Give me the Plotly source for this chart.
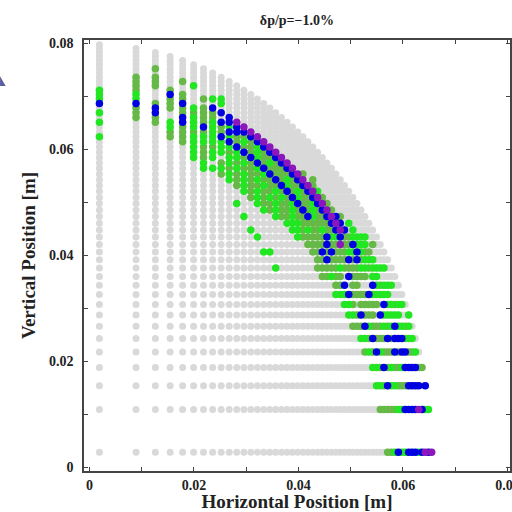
import plotly.graph_objects as go

# Grid columns (horizontal positions, m) and rows (vertical positions, m)
col_x = [0.00190, 0.00891, 0.01261, 0.01544, 0.01783, 0.01993, 0.02183, 0.02358, 0.02521, 0.02674,
         0.02819, 0.02956, 0.03088, 0.03214, 0.03335, 0.03452, 0.03565, 0.03675, 0.03782, 0.03885,
         0.03986, 0.04085, 0.04181, 0.04275, 0.04367, 0.04457, 0.04545, 0.04632, 0.04717, 0.04800,
         0.04882, 0.04963, 0.05042, 0.05120, 0.05197, 0.05273, 0.05348, 0.05422, 0.05495, 0.05567,
         0.05637, 0.05707, 0.05777, 0.05845, 0.05913, 0.05979, 0.06045, 0.06111, 0.06176, 0.06239,
         0.06303, 0.06366, 0.06428, 0.06489, 0.06550]
row_y = [0.00280, 0.01084, 0.01534, 0.01878, 0.02169, 0.02425, 0.02656, 0.02869, 0.03067, 0.03253,
         0.03429, 0.03597, 0.03757, 0.03910, 0.04058, 0.04200, 0.04338, 0.04471, 0.04601, 0.04727,
         0.04850, 0.04970, 0.05087, 0.05201, 0.05313, 0.05422, 0.05530, 0.05635, 0.05738, 0.05840,
         0.05940, 0.06038, 0.06135, 0.06230, 0.06323, 0.06416, 0.06507, 0.06596, 0.06685, 0.06772,
         0.06859, 0.06944, 0.07028, 0.07111, 0.07193, 0.07275, 0.07355, 0.07435, 0.07513, 0.07591,
         0.07668, 0.07744, 0.07820, 0.07895, 0.07969]
# number of surviving (grey) grid points in each row
row_len = [55, 54, 53, 52, 51, 50, 49, 48, 47, 46, 45, 44, 43, 42, 41, 40, 39, 38, 37, 36,
           35, 34, 33, 32, 31, 30, 29, 28, 27, 26, 25, 24, 23, 22, 21, 20, 19, 18, 17, 16,
           15, 14, 13, 12, 11, 10, 9, 8, 7, 6, 5, 4, 3, 2, 1]
# coloured points: (row, first column, colour codes) G=green, M=mid green, B=blue, P=purple, .=none
colored_rows = [
    (0, 41, "MMGBGGBBBGBPBP"),
    (1, 39, "MMMMMGGBBBBPBGG"),
    (2, 38, "GGMBGGMMMBBBB.B"),
    (3, 37, "GGMBMGMMGBBBBMM"),
    (4, 35, "MGMBGMMMBMBBMMG"),
    (5, 34, "GGMBMMMBMBBBMGG"),
    (6, 32, "MMMBGMMMGMGBGGMG"),
    (7, 31, "GGMBMMM.BGGGGG..G"),
    (8, 30, "GGM.MMMMM.BGGMGG"),
    (9, 28, "GGGBMMMMBGGGGG"),
    (10, 28, "MMB.MM...BGMGGG"),
    (11, 25, "MMGMM.BMMMM.GG"),
    (12, 24, "MMMMMGMMMMGGMGGGG"),
    (12, 16, "G"),
    (13, 24, "MMBMMMMBMBMGGG"),
    (14, 23, "MMBMBMMMGGBGMM"),
    (14, 14, "GG"),
    (15, 22, "MMMMBMMPMMBGGG.M"),
    (16, 20, "GMMMMMBGGBMMGGGG"),
    (16, 13, "G"),
    (17, 19, "GGMGMMGMMBPB.G"),
    (17, 12, "G"),
    (18, 18, "GGGMMMMMMBPB.G"),
    (19, 16, "GMMGMMBGMMBPBM"),
    (19, 11, "G"),
    (20, 14, "GMGMMGMBMGMBPM"),
    (21, 13, "GMMGMMGBMMGBPM"),
    (21, 10, "G"),
    (22, 12, "MGMGMGMBGMMBPM"),
    (23, 11, "GMGMMGMBMGMBPG"),
    (24, 10, "MGMMGMMBGMMBPM"),
    (25, 9, "GMGMGMMBMGMBP.M"),
    (26, 8, "MGMGMMGBMMMBPM"),
    (27, 6, "GGGMGMMGBMMMBP"),
    (28, 6, "G.MGMGMBMGMBP"),
    (29, 5, "GMG.GGMBGMMBP"),
    (30, 5, "GMGGMGBMGMBP"),
    (31, 5, "GMMGGBMMGBP"),
    (32, 4, "MGGGGBMGMBP"),
    (33, 0, "G..MMGGGBGMMBP"),
    (34, 3, "MMMMGMBBBP"),
    (35, 3, "GMGBGMGBP"),
    (36, 0, "G.MGBGMGBBP"),
    (37, 1, "MM.BGMM.B"),
    (38, 0, "GMB.MMMMB"),
    (39, 1, "MBMMGMB"),
    (40, 0, "BBMMB...G"),
    (41, 0, "GG.MM.MGG"),
    (42, 0, "GG.BM"),
    (43, 0, "GM.M"),
    (44, 1, "MM..G"),
    (45, 1, "MM.M"),
    (46, 1, "MM"),
    (48, 2, "M"),
]
colors = {"G": "#22e622", "M": "#66b947", "B": "#0000e0", "P": "#8a16bc"}

gx, gy = [], []
for j, n in enumerate(row_len):
    for i in range(n):
        gx.append(col_x[i])
        gy.append(row_y[j])

pts = {k: ([], []) for k in colors}
for j, start, codes in colored_rows:
    for k, ch in enumerate(codes):
        if ch in pts:
            pts[ch][0].append(col_x[start + k])
            pts[ch][1].append(row_y[j])

fig = go.Figure()
fig.add_trace(go.Scatter(x=gx, y=gy, mode="markers",
                         marker=dict(size=7, color="#d9d9d9"), showlegend=False))
for key in ["M", "G", "B", "P"]:
    fig.add_trace(go.Scatter(x=pts[key][0], y=pts[key][1], mode="markers",
                             marker=dict(size=7.5, color=colors[key]), showlegend=False))

serif = "Liberation Serif, Times New Roman, serif"
axis_common = dict(showline=True, linecolor="#444", linewidth=1.5, mirror="ticks",
                   ticks="inside", ticklen=4, tickcolor="#444", tickwidth=1.2,
                   showgrid=False, zeroline=False, ticklabeloverflow="allow",
                   automargin=False,
                   tickfont=dict(family=serif, size=14, color="#222", weight="bold"),
                   minor=dict(ticks="inside", ticklen=4, dtick=0.01, tick0=0,
                              tickcolor="#444", showgrid=False))
fig.update_xaxes(range=[-0.00105, 0.0805], dtick=0.02, tick0=0,
                 title=dict(text="Horizontal Position [m]", standoff=6,
                            font=dict(family=serif, size=19, color="#222", weight="bold")),
                 **axis_common)
fig.update_yaxes(range=[-0.00075, 0.08057], dtick=0.02, tick0=0, ticklabelstandoff=6,
                 title=dict(text="Vertical Position [m]", standoff=8,
                            font=dict(family=serif, size=19, color="#222", weight="bold")),
                 **axis_common)
fig.update_layout(
    width=512, height=512,
    margin=dict(l=84, r=2, t=40, b=41),
    paper_bgcolor="white", plot_bgcolor="white",
    title=dict(text="δp/p=−1.0%", x=0.58, xanchor="center", y=0.961, yanchor="middle",
               font=dict(family=serif, size=14, color="#222", weight="bold")),
    shapes=[dict(type="path", xref="paper", yref="paper",
                 path="M -0.197 0.916 L -0.184 0.893 L -0.197 0.893 Z",
                 fillcolor="#5b5e9e", line=dict(width=0))],
)
fig.write_html("out.html")
